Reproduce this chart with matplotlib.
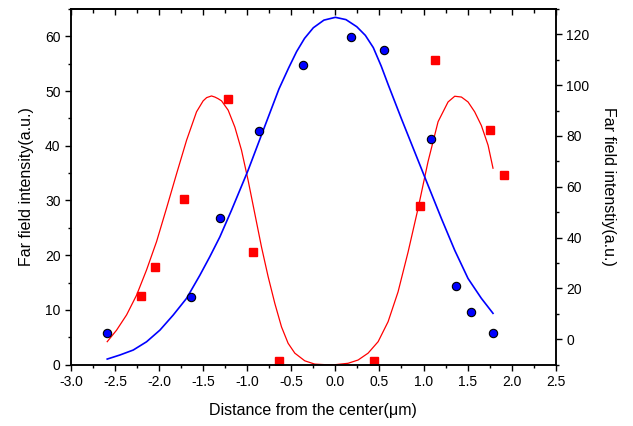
import matplotlib.pyplot as plt
from matplotlib.ticker import MultipleLocator

plt.rcParams['font.family'] = ['Liberation Sans', 'DejaVu Sans']

# measured points (red -> left axis, blue -> right axis)
red_x = [-2.21, -2.05, -1.72, -1.22, -0.94, -0.645, 0.434, 0.965, 1.135, 1.751, 1.917]
red_y = [12.55, 17.9, 30.25, 48.56, 20.6, 0.67, 0.67, 28.97, 55.7, 42.8, 34.7]

blue_x = [-2.595, -1.643, -1.31, -0.861, -0.362, 0.175, 0.549, 1.085, 1.373, 1.535, 1.785]
blue_y = [2.3, 16.6, 47.7, 81.8, 108.1, 118.9, 114.0, 78.8, 20.9, 10.7, 2.3]

# fitted curves
red_fit_x = [-2.588, -2.482, -2.368, -2.255, -2.142, -2.028, -1.915, -1.801, -1.688, -1.575,
             -1.50, -1.46, -1.405, -1.367, -1.33, -1.291, -1.216, -1.14, -1.065, -0.99,
             -0.914, -0.838, -0.763, -0.687, -0.611, -0.536, -0.46, -0.347, -0.234, -0.12,
             0.0, 0.144, 0.258, 0.371, 0.485, 0.598, 0.711, 0.825, 0.938, 1.051,
             1.165, 1.278, 1.354, 1.43, 1.505, 1.58, 1.656, 1.732, 1.788]
red_fit_y = [4.2, 6.3, 9.1, 12.7, 17.3, 22.5, 28.6, 34.9, 41.0, 46.2,
             48.2, 48.8, 49.1, 48.9, 48.6, 48.2, 46.5, 43.4, 39.2, 33.7,
             27.6, 21.5, 16.1, 11.2, 6.9, 3.9, 2.1, 0.7, 0.1, 0.0,
             0.0, 0.25, 0.85, 2.1, 4.2, 7.85, 13.3, 20.6, 28.55, 37.1,
             44.4, 48.0, 49.05, 48.9, 48.0, 46.2, 43.7, 40.1, 35.9]

blue_fit_x = [-2.588, -2.444, -2.293, -2.142, -1.99, -1.84, -1.688, -1.537, -1.424, -1.31,
              -1.178, -0.99, -0.80, -0.64, -0.53, -0.44, -0.35, -0.25, -0.13, 0.0,
              0.12, 0.243, 0.34, 0.43, 0.52, 0.598, 0.749, 0.9, 1.051, 1.203,
              1.354, 1.505, 1.656, 1.788]
blue_fit_y = [-7.8, -6.2, -4.25, -1.0, 3.6, 9.5, 16.1, 25.2, 32.5, 40.3,
              50.8, 66.5, 83.9, 98.5, 106.8, 113.2, 118.4, 122.6, 125.6, 126.7,
              125.8, 123.0, 119.6, 114.8, 107.5, 100.3, 86.8, 73.7, 60.6, 47.5,
              35.0, 23.9, 16.1, 10.2]

fig = plt.figure(figsize=(6.33, 4.26), dpi=100)
ax = fig.add_axes([0.112, 0.144, 0.766, 0.835])
ax2 = ax.twinx()

ax.plot(red_fit_x, red_fit_y, color='red', lw=0.9)
ax.plot(red_x, red_y, 's', color='red', ms=6, mec='red', lw=0)

ax2.plot(blue_fit_x, blue_fit_y, color='blue', lw=1.2)
ax2.plot(blue_x, blue_y, 'o', color='blue', ms=6, mec='black', mew=0.8, lw=0)

ax.set_xlim(-3.0, 2.5)
ax.set_ylim(0, 65)
ax2.set_ylim(-10, 130)

ax.xaxis.set_major_locator(MultipleLocator(0.5))
ax.xaxis.set_minor_locator(MultipleLocator(0.25))
ax.yaxis.set_major_locator(MultipleLocator(10))
ax.yaxis.set_minor_locator(MultipleLocator(5))
ax2.yaxis.set_major_locator(MultipleLocator(20))
ax2.yaxis.set_minor_locator(MultipleLocator(10))
ax.xaxis.set_major_formatter(plt.FuncFormatter(lambda v, p: '%.1f' % v))

for a in (ax, ax2):
    for s in a.spines.values():
        s.set_linewidth(1.1)
    a.tick_params(which='major', direction='out', length=4, width=1, labelsize=10)
    a.tick_params(which='minor', direction='out', length=2.5, width=1)

top = ax.secondary_xaxis('top')
top.xaxis.set_major_locator(MultipleLocator(0.5))
top.xaxis.set_minor_locator(MultipleLocator(0.25))
top.tick_params(which='major', direction='in', length=4.5, width=1, labeltop=False)
top.tick_params(which='minor', direction='in', length=3, width=1)
top.spines['top'].set_linewidth(1.1)

ax.set_xlabel('Distance from the center(μm)', fontsize=11.5, labelpad=10)
ax.set_ylabel('Far field intensity(a.u.)', fontsize=11.5, labelpad=8)
ax2.set_ylabel('Far field intenstiy(a.u.)', fontsize=11.5, rotation=270, labelpad=19)

plt.savefig('out.png', dpi=100)
